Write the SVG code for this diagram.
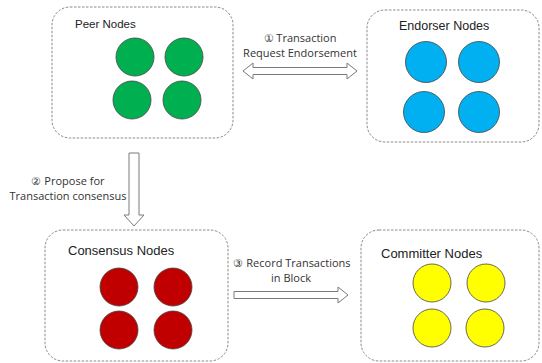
<svg xmlns="http://www.w3.org/2000/svg" width="542" height="363" viewBox="0 0 542 363">
<style>
.box{fill:#fff;stroke:#8a8a8a;stroke-width:1;stroke-dasharray:2.5,1.5}
.nd{stroke:#444;stroke-width:0.8}
.g{fill:#00B050}.b{fill:#00B0F0}.r{fill:#C00000}.y{fill:#FFFF00}
.arr{fill:#fff;stroke:#7a7a7a;stroke-width:1}
.t{font-family:"Liberation Sans",Arial,sans-serif;fill:#222}
.lb{font-family:"Open Sans","Liberation Sans",sans-serif;font-size:11px;fill:#333}
</style>
<rect width="542" height="363" fill="#fff"/>
<g id="peer">
<rect class="box" x="52" y="7" width="181" height="131" rx="18"/>
<text class="t" x="75" y="28" font-size="11.5">Peer Nodes</text>
<circle class="nd g" cx="135" cy="57" r="19"/>
<circle class="nd g" cx="184" cy="57" r="19"/>
<circle class="nd g" cx="132" cy="100" r="19"/>
<circle class="nd g" cx="182" cy="100" r="19"/>
</g>
<g id="endorser">
<rect class="box" x="367" y="10" width="172" height="132" rx="18"/>
<text class="t" x="399" y="30" font-size="12.5">Endorser Nodes</text>
<circle class="nd b" cx="426" cy="62" r="20.5"/>
<circle class="nd b" cx="479" cy="62" r="20.5"/>
<circle class="nd b" cx="424" cy="112" r="20.5"/>
<circle class="nd b" cx="479" cy="112" r="20.5"/>
</g>
<g id="consensus">
<rect class="box" x="45" y="230" width="183" height="131" rx="18"/>
<text class="t" x="68" y="255" font-size="13">Consensus Nodes</text>
<circle class="nd r" cx="119" cy="287" r="19"/>
<circle class="nd r" cx="173" cy="287" r="19"/>
<circle class="nd r" cx="119" cy="330" r="19"/>
<circle class="nd r" cx="173" cy="330" r="19"/>
</g>
<g id="committer">
<rect class="box" x="361" y="230" width="178" height="131" rx="18"/>
<text class="t" x="381" y="258" font-size="13">Committer Nodes</text>
<circle class="nd y" cx="432" cy="283" r="19"/>
<circle class="nd y" cx="486" cy="283" r="19"/>
<circle class="nd y" cx="432" cy="328" r="19"/>
<circle class="nd y" cx="485" cy="328" r="19"/>
</g>
<g id="connectors">
<polygon class="arr" points="243,71 253,63 253,67.5 347,67.5 347,63 357,71 347,79 347,74.5 253,74.5 253,79"/>
<polygon class="arr" points="129,153 139,153 139,215 144,215 134,226 124,215 129,215"/>
<polygon class="arr" points="234,291.5 338,291.5 338,287 348,295 338,303 338,298.5 234,298.5"/>
<text class="lb" x="300" y="42" text-anchor="middle">① Transaction</text>
<text class="lb" x="300" y="57" text-anchor="middle">Request Endorsement</text>
<text class="lb" x="68" y="185" text-anchor="middle">② Propose for</text>
<text class="lb" x="68" y="200" text-anchor="middle">Transaction consensus</text>
<text class="lb" x="292" y="267" text-anchor="middle">③ Record Transactions</text>
<text class="lb" x="291" y="282" text-anchor="middle">in Block</text>
</g>
</svg>
